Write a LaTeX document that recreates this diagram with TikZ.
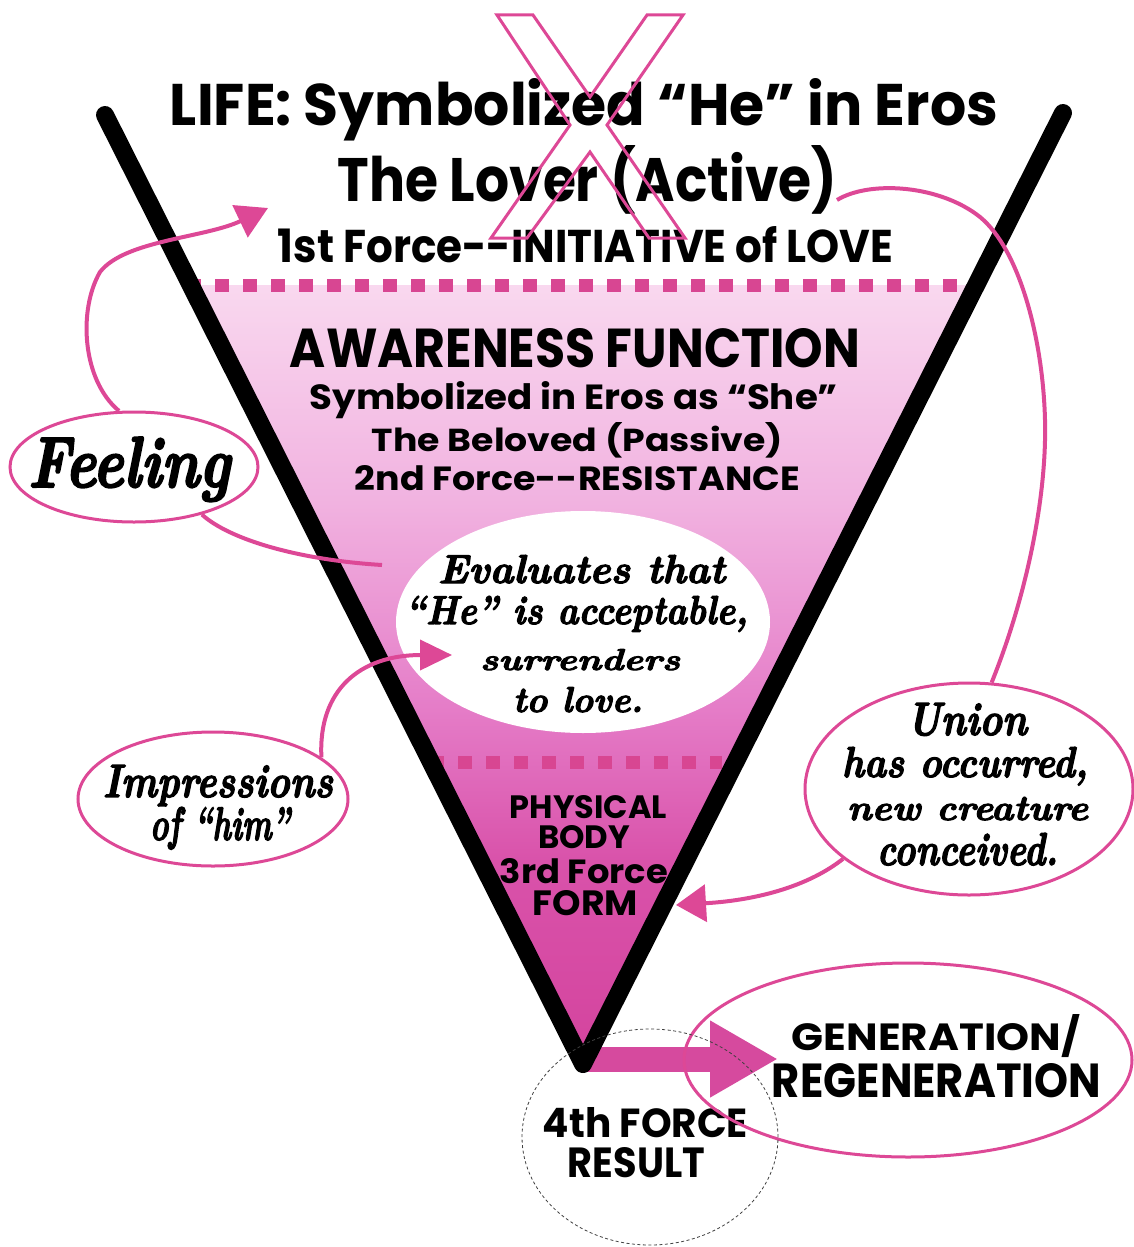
\documentclass[tikz,border=0pt]{standalone}
\usepackage{fontspec}
\usepackage{graphicx}
\usetikzlibrary{shapes.geometric,arrows.meta}
\newfontfamily\gothic{Poppins}
\newfontfamily\scr{lmroman10-bolditalic.otf}[FakeBold=3]
\newcommand{\fitline}[3]{\resizebox{#1pt}{#2pt}{#3}}
\definecolor{pinkc}{RGB}{221,72,150}
\definecolor{sqc}{RGB}{216,70,146}
\definecolor{barrow}{RGB}{214,74,158}
\definecolor{plight}{RGB}{249,216,239}
\definecolor{plighttwo}{RGB}{241,178,224}
\definecolor{pmid}{RGB}{229,125,200}
\definecolor{pdarktwo}{RGB}{217,82,170}
\definecolor{pdark}{RGB}{212,68,158}
\pgfdeclareverticalshading{vfill}{100bp}{color(0bp)=(pdark); color(25bp)=(pdark); color(38bp)=(pdarktwo); color(48bp)=(pmid); color(61bp)=(plighttwo); color(75bp)=(plight); color(100bp)=(plight)}
\begin{document}
\begin{tikzpicture}[x=1pt,y=-1pt,
  gtxt/.style={inner sep=0pt, anchor=base, font=\gothic\bfseries},
  stxt/.style={inner sep=0pt, anchor=base, font=\scr},
  pell/.style={ellipse, draw=pinkc, line width=3pt, inner sep=0pt},
  conn/.style={draw=pinkc, line width=4pt},
  sqline/.style={draw=sqc, line width=13pt, dash pattern=on 14pt off 14pt},
  vline/.style={draw=black, line width=18pt, line cap=round, line join=round},
  xline/.style={draw=pinkc, line width=3pt, line join=miter},
  blockarrow/.style={draw=barrow, line width=25pt, -{Triangle[length=68pt,width=72pt]}}
]
\useasboundingbox (0,0) rectangle (1133,1247);

% key coordinates
\coordinate (vl) at (105,115);
\coordinate (vb) at (583,1064);
\coordinate (vr) at (1063,113);
\coordinate (lifearrow) at (268,208);
\coordinate (feelend) at (382,565);
\coordinate (impend) at (452,655);
\coordinate (unionend) at (837,200);
\coordinate (formarrow) at (676,905);
\coordinate (shaftstart) at (583,1059);
\coordinate (genarrow) at (778,1059);

% pink gradient fill of the lower V
\shade[shading=vfill] (188,285) -- (979,285) -- (583,1064) -- cycle;

% white evaluation ellipse
\node[ellipse, fill=white, inner sep=0pt, minimum width=374pt, minimum height=222pt] (eval) at (583,622) {};

% dotted separators
\draw[sqline] (187,285) -- (977,285);
\draw[sqline] (430,762) -- (722,762);

% block arrow to generation
\draw[blockarrow] (shaftstart) -- (genarrow);

% the V
\draw[vline] (vl) -- (vb) -- (vr);

% top texts
\node[gtxt] (t1) at (584,125) {\fitline{828}{47}{LIFE: Symbolized “He” in Eros}};
\node[gtxt] (t2) at (587.5,201) {\fitline{499}{56}{The Lover (Active)}};
\node[gtxt] (t3) at (585.5,262) {\fitline{615}{36}{1st Force-{}-INITIATIVE of LOVE}};

% awareness texts
\node[gtxt] (a1) at (575,367) {\fitline{570}{39}{AWARENESS FUNCTION}};
\node[gtxt] (a2) at (574,409) {\fitline{528}{28}{Symbolized in Eros as “She”}};
\node[gtxt] (a3) at (577.5,451) {\fitline{411}{29}{The Beloved (Passive)}};
\node[gtxt] (a4) at (577.5,490) {\fitline{445}{25}{2nd Force-{}-RESISTANCE}};

% evaluation texts
\node[stxt] (e1) at (581.5,583) {\fitline{287}{28}{Evaluates that}};
\node[stxt] (e2) at (576.5,624) {\fitline{343}{28}{“He” is acceptable,}};
\node[stxt] (e3) at (580,670) {\fitline{200}{21}{surrenders}};
\node[stxt] (e4) at (578,712) {\fitline{130}{25}{to love.}};

% physical body texts
\node[gtxt] (p1) at (588.5,818) {\fitline{157}{23}{PHYSICAL}};
\node[gtxt] (p2) at (584,848) {\fitline{92}{23}{BODY}};
\node[gtxt] (p3) at (584,883) {\fitline{168}{25}{3rd Force}};
\node[gtxt] (p4) at (585.5,915) {\fitline{105}{25}{FORM}};

% 4th force texts
\node[gtxt] (r1) at (645.5,1137) {\fitline{205}{30}{4th FORCE}};
\node[gtxt] (r2) at (636.5,1177) {\fitline{137}{30}{RESULT}};

% generation texts
\node[gtxt] (g1) at (936,1050) {\fitline{288}{36}{GENERATION/}};
\node[gtxt] (g2) at (936.5,1097) {\fitline{329}{34}{REGENERATION}};

% the X over the title
\draw[xline] (497,15) -- (533,15) -- (590,97) -- (647,15) -- (683,15) -- (607,125)
  -- (685,238) -- (649,238) -- (590,152) -- (527,238) -- (491,238) -- (570,125) -- cycle;

% side ellipses
\node[pell, minimum width=248pt, minimum height=110pt] (feel) at (134,467) {};
\node[stxt] (feelt) at (129,487) {\fitline{202}{50}{Feeling}};

\node[pell, minimum width=270pt, minimum height=134pt] (imp) at (213,799) {};
\node[stxt] (imp1) at (218,797) {\fitline{230}{32}{Impressions}};
\node[stxt] (imp2) at (220,840) {\fitline{140}{33}{of “him”}};

\node[pell, minimum width=328pt, minimum height=212pt] (union) at (969,789) {};
\node[stxt] (u1) at (967,735) {\fitline{120}{32}{Union}};
\node[stxt] (u2) at (965,777) {\fitline{246}{30}{has occurred,}};
\node[stxt] (u3) at (967.5,820) {\fitline{241}{23}{new creature}};
\node[stxt] (u4) at (967.5,865) {\fitline{181}{32}{conceived.}};

\node[pell, minimum width=448pt, minimum height=194pt] (gen) at (908,1060) {};

% connectors
\draw[conn, -{Triangle[length=31pt,width=35pt]}] (feel.105)
  .. controls (82,380) and (78,310) .. (100,272)
  .. controls (125,240) and (205,238) .. (lifearrow);
\draw[conn] (feel.325) .. controls (230,540) and (300,560) .. (feelend);
\draw[conn, -{Triangle[length=32pt,width=30pt]}] (imp.21)
  .. controls (318,690) and (360,655) .. (impend);
\draw[conn] (union.78) .. controls (1025,600) and (1047,500) .. (1045,420)
  .. controls (1043,340) and (1020,250) .. (980,217)
  .. controls (940,185) and (870,180) .. (unionend);
\draw[conn, -{Triangle[length=30pt,width=37pt]}] (union.209)
  .. controls (810,885) and (760,900) .. (formarrow);

% dashed result circle
\node[ellipse, draw=black!75, line width=0.8pt, dash pattern=on 3pt off 2.5pt, inner sep=0pt,
  minimum width=256pt, minimum height=216pt] (res) at (650,1137) {};
\end{tikzpicture}
\end{document}
